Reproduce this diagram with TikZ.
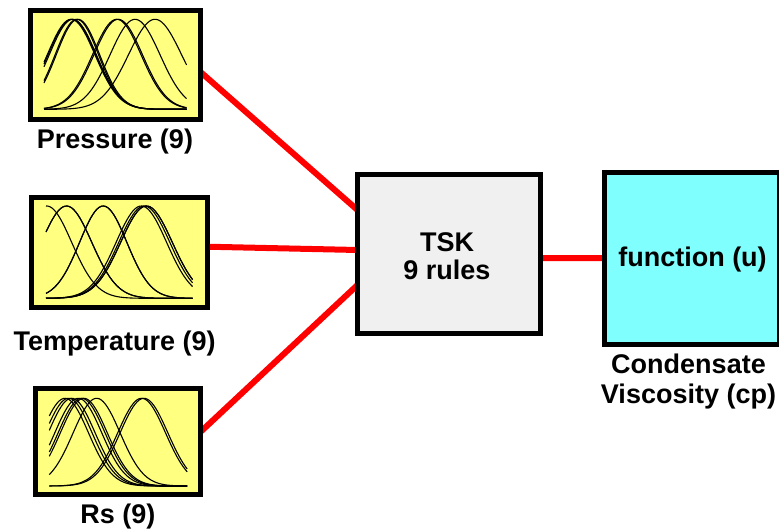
\documentclass[tikz,border=0pt]{standalone}
\usepackage{fontspec}
\setmainfont{Liberation Sans}
\usetikzlibrary{calc}

\pgfdeclarelayer{wires}
\pgfsetlayers{wires,main}

\definecolor{mfyellow}{RGB}{255,255,128}
\definecolor{outcyan}{RGB}{128,255,255}
\definecolor{rulegray}{RGB}{240,240,240}
\definecolor{wirered}{RGB}{255,0,0}

% one Gaussian membership function on the unit square: centre #1, spread #2
\newcommand{\gaussmf}[2]{%
  \draw[mfcurve] plot[domain=0:1,samples=70,smooth]
    (\x,{exp(-((\x-#1)^2)/(2*(#2)^2))});}

\begin{document}
\begin{tikzpicture}[x=1pt,y=-1pt,
  block/.style={draw=black,line width=5pt,inner sep=0pt,outer sep=0pt},
  inbox/.style={block,fill=mfyellow},
  rulebox/.style={block,fill=rulegray},
  outbox/.style={block,fill=outcyan},
  wire/.style={draw=wirered,line width=6pt},
  mfcurve/.style={black,line width=1.1pt},
  lbl/.style={font=\bfseries\fontsize{27}{30}\selectfont,anchor=base,inner sep=0pt}]

\useasboundingbox (0,0) rectangle (779,532);

% ---- input blocks ----
\node[inbox,minimum width=170.2pt,minimum height=108.4pt] (pres) at (115.1,65) {};
\node[inbox,minimum width=175.3pt,minimum height=110pt] (temp) at (119.35,252.5) {};
\node[inbox,minimum width=165.6pt,minimum height=106.3pt] (rs) at (118,441.65) {};

% ---- rule base and output ----
\node[rulebox,minimum width=182.7pt,minimum height=159pt] (tsk) at (448.85,253.7) {};
\node[outbox,minimum width=175.3pt,minimum height=171.7pt] (fn) at (691.85,258.35) {};

% ---- membership functions: Pressure ----
\begin{scope}[shift={(44,109.3)},x=142.7pt,y=90pt]
  \gaussmf{0.190}{0.167}
  \gaussmf{0.196}{0.167}
  \gaussmf{0.202}{0.165}
  \gaussmf{0.230}{0.152}
  \gaussmf{0.238}{0.152}
  \gaussmf{0.510}{0.170}
  \gaussmf{0.520}{0.170}
  \gaussmf{0.638}{0.175}
  \gaussmf{0.778}{0.186}
\end{scope}

% ---- membership functions: Temperature ----
\begin{scope}[shift={(46,298.3)},x=146.7pt,y=92.3pt]
  \gaussmf{0.005}{0.170}
  \gaussmf{0.140}{0.172}
  \gaussmf{0.140}{0.172}
  \gaussmf{0.390}{0.161}
  \gaussmf{0.390}{0.161}
  \gaussmf{0.650}{0.172}
  \gaussmf{0.670}{0.174}
  \gaussmf{0.685}{0.176}
  \gaussmf{0.685}{0.176}
\end{scope}

% ---- membership functions: Rs ----
\begin{scope}[shift={(49.3,486)},x=138pt,y=87.7pt]
  \gaussmf{0.114}{0.170}
  \gaussmf{0.140}{0.170}
  \gaussmf{0.162}{0.170}
  \gaussmf{0.210}{0.170}
  \gaussmf{0.234}{0.170}
  \gaussmf{0.250}{0.170}
  \gaussmf{0.343}{0.170}
  \gaussmf{0.669}{0.173}
  \gaussmf{0.686}{0.173}
\end{scope}

% ---- texts ----
\node[lbl] (preslbl) at (115,148.3) {Pressure (9)};
\node[lbl] (templbl) at (114.7,350) {Temperature (9)};
\node[lbl] (rslbl) at (118,523.3) {Rs (9)};
\node[lbl] (tsktop) at (447,251.7) {TSK};
\node[lbl] (tskbot) at (447,279.3) {9 rules};
\node[lbl] (fntext) at (692.5,266.3) {function (u)};
\node[lbl] (outtop) at (688.5,373.3) {Condensate};
\node[lbl] (outbot) at (688.5,403.3) {Viscosity (cp)};

% ---- connections, kept beneath the block borders ----
\begin{pgfonlayer}{wires}
  \draw[wire] ($(pres.east)+(0,6.7)$) -- ($(tsk.west)+(0,-43.7)$);
  \draw[wire] ($(temp.east)+(0,-5.8)$) -- ($(tsk.west)+(0,-3.7)$);
  \draw[wire] ($(rs.east)+(0,-10)$) -- ($(tsk.west)+(0,31.3)$);
  \draw[wire] ($(tsk.east)+(0,4.3)$) -- ($(fn.west)+(0,-0.3)$);
\end{pgfonlayer}
\end{tikzpicture}
\end{document}
